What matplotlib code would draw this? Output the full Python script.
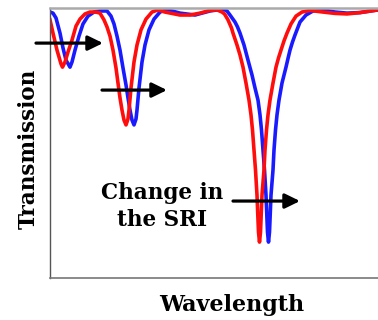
import matplotlib
matplotlib.use("Agg")
import matplotlib.pyplot as plt

# wavelength (arb. units) and normalised transmission
red_wl = [0, 3, 7, 11, 12.5, 15, 18, 22, 26, 30, 35, 40, 46, 50, 54, 57, 60, 63, 66, 68, 70, 72, 74, 76,
          78, 79, 81, 84, 87, 91, 96, 102, 108, 115, 130, 140, 150, 160, 167, 172, 174.5, 178, 181.5, 183,
          185, 187, 190, 193, 196, 199, 201, 202.5, 204, 205.5, 207, 208, 208.5, 209.5, 210.5, 211, 212,
          214, 215, 216.5, 218, 220, 223, 226, 228.5, 231, 234, 237, 241, 246, 252, 260, 273, 285, 297,
          310, 328]
red_T = [0.956, 0.907, 0.844, 0.793, 0.781, 0.800, 0.837, 0.881, 0.933, 0.959, 0.978, 0.985, 0.985, 0.981,
         0.956, 0.930, 0.896, 0.844, 0.778, 0.722, 0.667, 0.622, 0.585, 0.567,
         0.589, 0.622, 0.704, 0.800, 0.863, 0.919, 0.959, 0.985, 0.993, 0.985, 0.974, 0.974, 0.981, 0.991,
         0.993, 0.985, 0.978, 0.956, 0.926, 0.907,
         0.885, 0.863, 0.826, 0.781, 0.722, 0.659, 0.604, 0.548, 0.474, 0.400, 0.307, 0.215, 0.170, 0.133,
         0.170, 0.215, 0.307,
         0.400, 0.474, 0.548, 0.604, 0.659, 0.722, 0.781, 0.815, 0.844, 0.878, 0.907, 0.941, 0.970, 0.985,
         0.991, 0.985, 0.980, 0.978, 0.983, 0.993]

blue_wl = [0, 3, 6, 10, 13, 16, 20, 22, 25, 29, 33, 38, 44, 50, 57, 61, 64, 67, 70, 73, 76, 78, 80, 82, 84,
           86, 87, 89, 92, 95, 99, 104, 110, 116, 122, 130, 145, 160, 173, 177, 180, 182.5, 185, 187.5, 190,
           194, 198, 202, 205, 208, 210, 211.5, 213, 214.5, 216, 217, 217.5, 218.5, 219.5, 220, 221, 223,
           224, 225.5, 227, 229, 232, 236, 238, 240, 242.5, 245, 250, 256, 263, 273, 285, 297, 310, 328]
blue_T = [0.985, 0.981, 0.963, 0.907, 0.852, 0.807, 0.781, 0.800, 0.844, 0.896, 0.941, 0.970, 0.985, 0.989,
          0.989, 0.970, 0.941, 0.896, 0.844, 0.778, 0.715, 0.667, 0.622, 0.585, 0.567,
          0.589, 0.622, 0.704, 0.800, 0.863, 0.919, 0.959, 0.985, 0.993, 0.989, 0.981, 0.974, 0.989, 0.996,
          0.989, 0.974, 0.961, 0.948, 0.930, 0.907, 0.863, 0.807, 0.752,
          0.704, 0.659, 0.604, 0.548, 0.474, 0.400, 0.307, 0.215, 0.170, 0.133, 0.170, 0.215, 0.307, 0.400,
          0.474, 0.548, 0.604, 0.659, 0.722, 0.781, 0.813, 0.844, 0.874, 0.900, 0.948, 0.974, 0.989, 0.993,
          0.985, 0.981, 0.983, 0.993]

# arrows: (start wl, end wl, level)
arrows = [(-14, 53, 0.870), (52, 117, 0.696), (183, 250, 0.285)]

fig = plt.figure(figsize=(3.78, 3.2), dpi=100)
ax = fig.add_axes([50 / 378, 42 / 320, 1 - 50 / 378, 270 / 320])

ax.plot(blue_wl, blue_T, color='#1a1aff', lw=2.6, solid_joinstyle='round')
ax.plot(red_wl, red_T, color='#ff0d0d', lw=2.6, solid_joinstyle='round')

for x0, x1, yy in arrows:
    ax.annotate('', xy=(x1, yy), xytext=(x0, yy), annotation_clip=False,
                arrowprops=dict(arrowstyle='-|>,head_length=0.45,head_width=0.22', color='black',
                                lw=2.3, mutation_scale=20, shrinkA=0, shrinkB=0), zorder=5)

ax.text(112, 0.265, 'Change in\nthe SRI', ha='center', va='center', fontsize=15.5,
        fontweight='bold', family='DejaVu Serif', linespacing=1.3)

ax.set_xlim(0, 328)
ax.set_ylim(0, 1)
ax.set_xticks([])
ax.set_yticks([])
ax.spines['right'].set_visible(False)
ax.spines['top'].set_color('#aaaaaa')
ax.spines['top'].set_linewidth(1.8)
ax.spines['left'].set_color('#555555')
ax.spines['left'].set_linewidth(1.0)
ax.spines['bottom'].set_color('#777777')
ax.spines['bottom'].set_linewidth(1.2)

fig.text(232 / 378, 15 / 320, 'Wavelength', ha='center', va='center', fontsize=16,
         fontweight='bold', family='DejaVu Serif')
fig.text(29 / 378, 171 / 320, 'Transmission', ha='center', va='center', rotation=90,
         fontsize=15.5, fontweight='bold', family='DejaVu Serif')

fig.savefig('out.png', dpi=100)
